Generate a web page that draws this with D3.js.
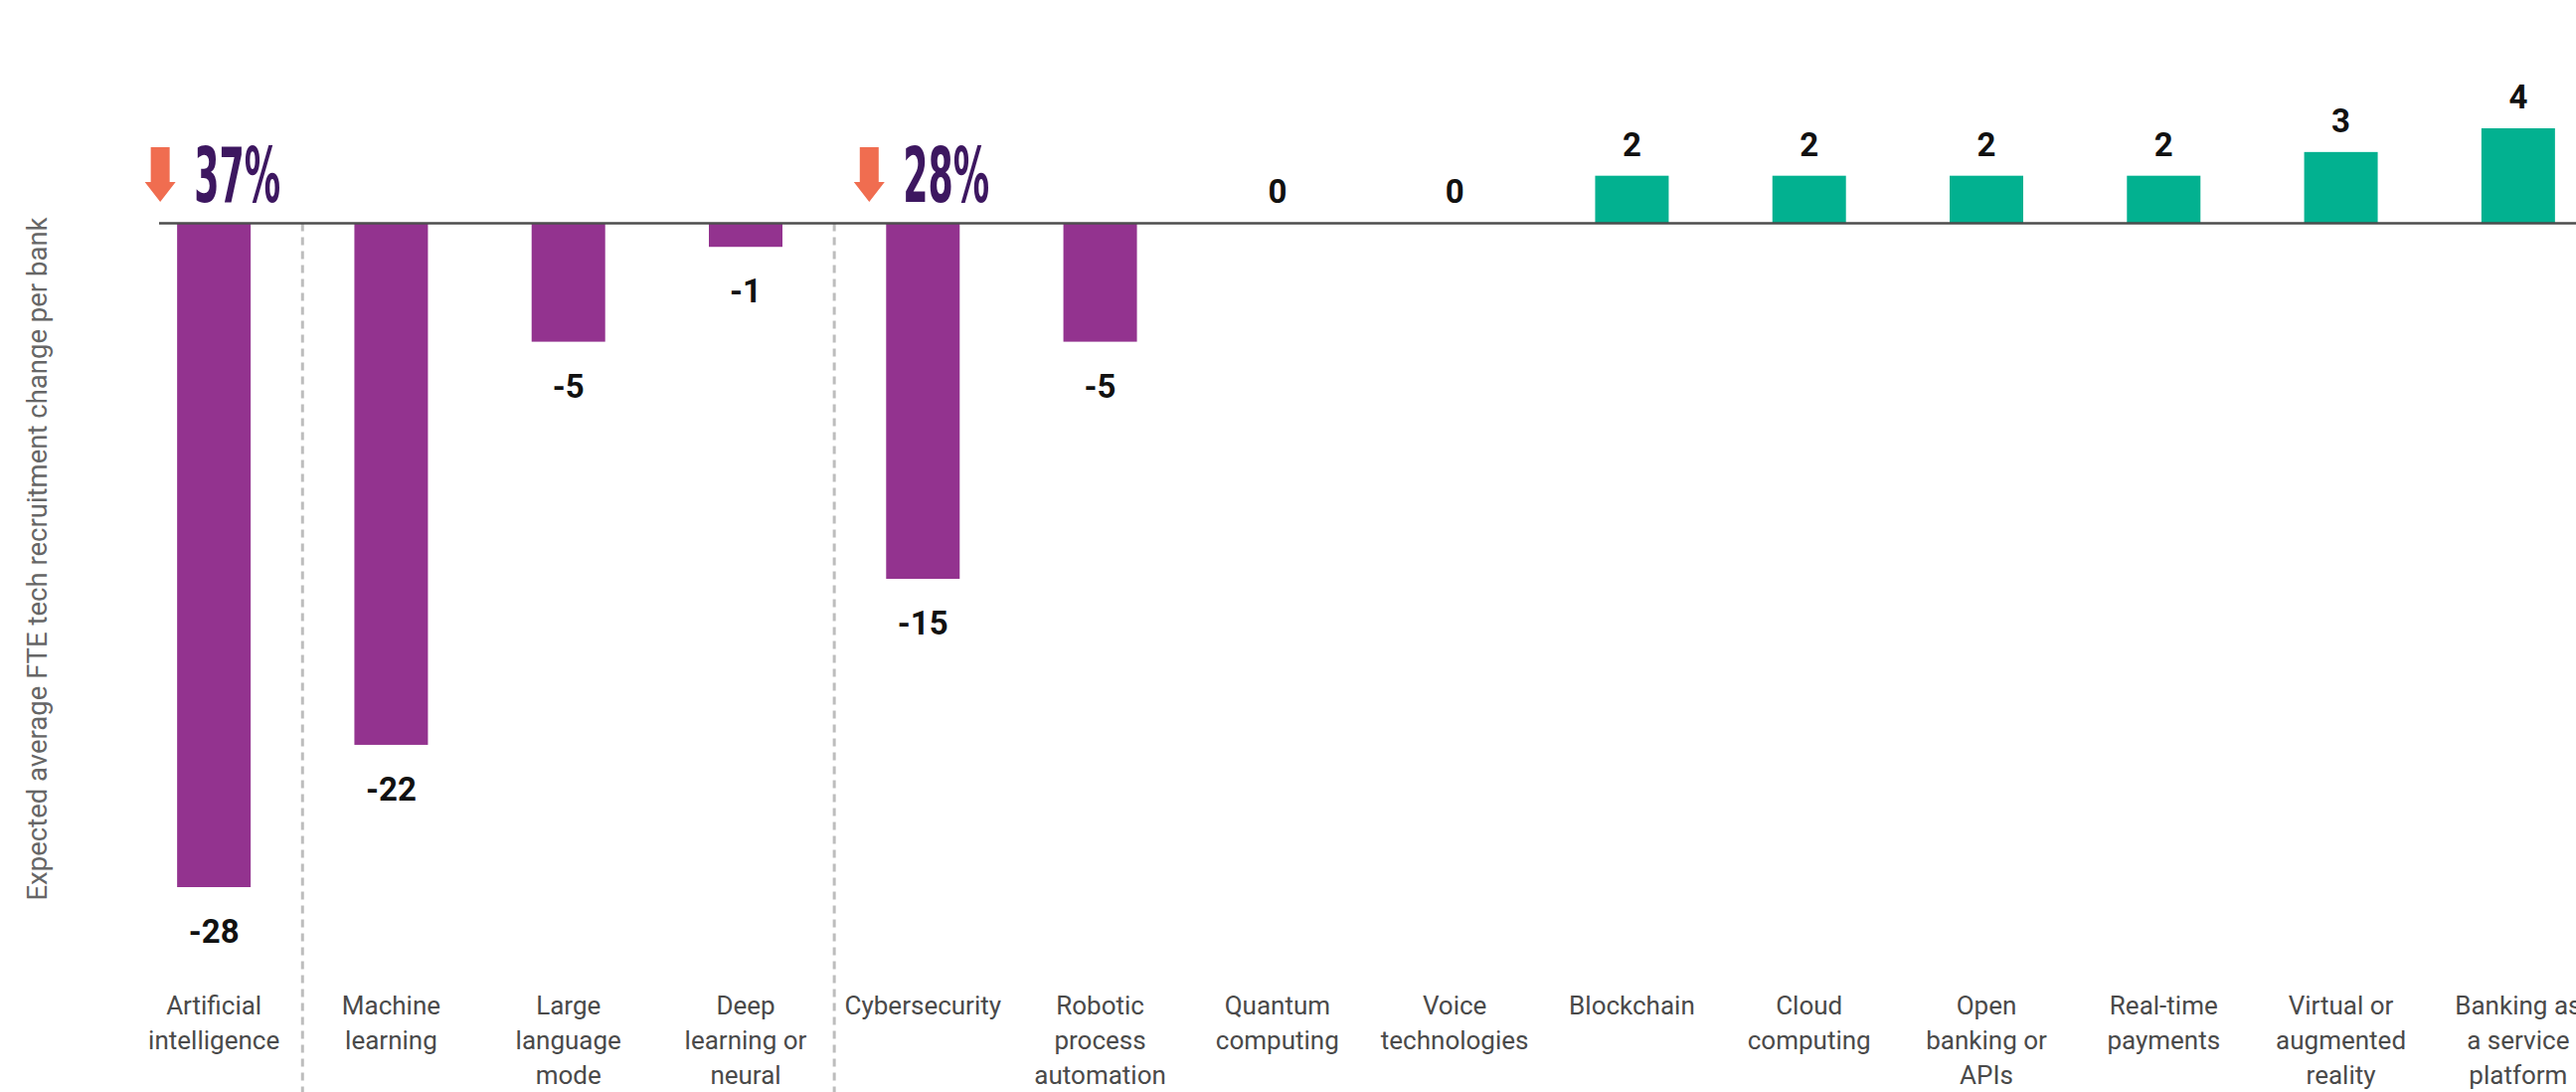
<!DOCTYPE html>
<html>
<head>
<meta charset="utf-8">
<script src="https://cdn.jsdelivr.net/npm/d3@7"></script>
<style>
  html, body { margin: 0; padding: 0; background: #ffffff; overflow: hidden; }
  svg { display: block; }
</style>
</head>
<body>
<svg id="chart" width="2591" height="1098"></svg>
<script>
// ---- data ----
const categories = [
  "Artificial intelligence", "Machine learning", "Large language mode",
  "Deep learning or neural", "Cybersecurity", "Robotic process automation",
  "Quantum computing", "Voice technologies", "Blockchain", "Cloud computing",
  "Open banking or APIs", "Real-time payments", "Virtual or augmented reality",
  "Banking as a service platform"
];
const tickLabelLines = [
  ["Artificial", "intelligence"], ["Machine", "learning"], ["Large", "language", "mode"],
  ["Deep", "learning or", "neural"], ["Cybersecurity"], ["Robotic", "process", "automation"],
  ["Quantum", "computing"], ["Voice", "technologies"], ["Blockchain"], ["Cloud", "computing"],
  ["Open", "banking or", "APIs"], ["Real-time", "payments"], ["Virtual or", "augmented", "reality"],
  ["Banking as", "a service", "platform"]
];
const values = [-28, -22, -5, -1, -15, -5, 0, 0, 2, 2, 2, 2, 3, 4];
const annotationAnchors = ["Artificial intelligence", "Cybersecurity"];
const annotationTexts = ["37%", "28%"];
const separatorsAfter = ["Artificial intelligence", "Deep learning or neural"];
const yTitle = "Expected average FTE tech recruitment change per bank";

// ---- layout ----
const W = 2591, H = 1098;
const svg = d3.select("#chart");
svg.append("rect").attr("width", W).attr("height", H).attr("fill", "#ffffff");

const x = d3.scaleBand()
  .domain(categories)
  .range([126, 2622])
  .paddingInner(0.585)
  .paddingOuter(0.2925);

const y = d3.scaleLinear().domain([-28, 4]).range([892, 129]);

const purple = "#93338f";
const green = "#02b190";

// separators
svg.append("g").selectAll("line")
  .data(separatorsAfter)
  .join("line")
  .attr("x1", d => x(d) + x.bandwidth() / 2 + x.step() / 2)
  .attr("x2", d => x(d) + x.bandwidth() / 2 + x.step() / 2)
  .attr("y1", y(0))
  .attr("y2", H)
  .attr("stroke", "#bdbdbd")
  .attr("stroke-width", 3)
  .attr("stroke-dasharray", "8,6");

// bars
const data = categories.map((c, i) => ({ c, v: values[i], lines: tickLabelLines[i] }));
svg.append("g").selectAll("rect")
  .data(data.filter(d => d.v !== 0))
  .join("rect")
  .attr("x", d => x(d.c))
  .attr("width", x.bandwidth())
  .attr("y", d => Math.min(y(d.v), y(0)))
  .attr("height", d => Math.abs(y(d.v) - y(0)))
  .attr("fill", d => d.v < 0 ? purple : green);

// baseline
svg.append("line")
  .attr("x1", 160).attr("x2", W)
  .attr("y1", y(0)).attr("y2", y(0))
  .attr("stroke", "#4d4d4d")
  .attr("stroke-width", 2.5);

// value labels
svg.append("g").selectAll("text")
  .data(data)
  .join("text")
  .attr("x", d => x(d.c) + x.bandwidth() / 2)
  .attr("y", d => d.v < 0 ? y(d.v) + 56 : y(d.v) - 20)
  .attr("text-anchor", "middle")
  .attr("font-family", "Roboto, 'Open Sans', sans-serif")
  .attr("font-weight", 700)
  .attr("font-size", 33)
  .attr("fill", "#111111")
  .text(d => d.v);

// category axis (multi-line tick labels)
const axisG = svg.append("g")
  .attr("transform", `translate(0, 1020)`)
  .call(d3.axisBottom(x).tickSize(0).tickPadding(0));
axisG.select(".domain").remove();
axisG.selectAll(".tick text")
  .attr("y", 0).attr("dy", null)
  .attr("font-family", "Roboto, 'Open Sans', sans-serif")
  .attr("font-size", 26)
  .attr("fill", "#4a4a4a")
  .each(function(d) {
    const i = categories.indexOf(d);
    const t = d3.select(this);
    t.text(null);
    tickLabelLines[i].forEach((ln, k) => {
      t.append("tspan").attr("x", 0).attr("y", k * 35).text(ln);
    });
  });

// y title
svg.append("text")
  .attr("transform", `translate(47, 562) rotate(-90)`)
  .attr("text-anchor", "middle")
  .attr("font-family", "Roboto, 'Open Sans', sans-serif")
  .attr("font-size", 27.5)
  .attr("fill", "#666666")
  .text(yTitle);

// annotations: arrow + percentage
annotationAnchors.forEach((a, i) => {
  const left = x(a);
  const cx = left - 17;
  const g = svg.append("g");
  g.append("path")
    .attr("d", `M${cx - 9.5},148 L${cx + 9.5},148 L${cx + 9.5},183 L${cx + 15.5},183 L${cx},203 L${cx - 15.5},183 L${cx - 9.5},183 Z`)
    .attr("fill", "#f06d50");
  g.append("text")
    .attr("x", left + 17)
    .attr("y", 203)
    .attr("font-family", "'Liberation Sans Narrow', 'DejaVu Sans Condensed', sans-serif")
    .attr("font-weight", 700)
    .attr("font-size", 77)
    .attr("textLength", 87)
    .attr("lengthAdjust", "spacingAndGlyphs")
    .attr("fill", "#3d1760")
    .text(annotationTexts[i]);
});
</script>
</body>
</html>
